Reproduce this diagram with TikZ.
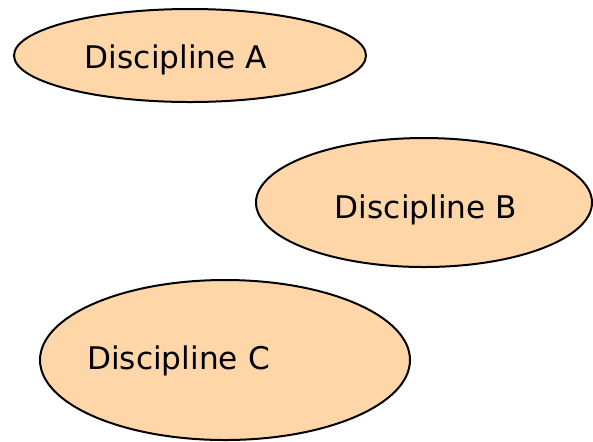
\documentclass[tikz,border=0pt]{standalone}
\usepackage{fontspec}
\setmainfont{DejaVu Sans}
\usepackage{tikz}
\usetikzlibrary{shapes.geometric}
\definecolor{peach}{RGB}{254,214,168}

\begin{document}
\begin{tikzpicture}[x=0.5pt,y=-0.5pt]
\tikzset{disc/.style={ellipse,draw=black,line width=1pt,fill=peach,inner sep=0pt},
         disclabel/.style={anchor=base,inner sep=0pt,font=\fontsize{15.6}{18}\selectfont}}
\useasboundingbox (0,0) rectangle (593,441);
\node[disc,minimum width=176pt,minimum height=46.5pt] (discA) at (190,55.5) {};
\node[disc,minimum width=168pt,minimum height=64.5pt] (discB) at (424,202.5) {};
\node[disc,minimum width=185pt,minimum height=80pt] (discC) at (225,360) {};
\node[disclabel] (labA) at (176,68) {Discipline A};
\node[disclabel] (labB) at (426,218) {Discipline B};
\node[disclabel] (labC) at (178.5,369) {Discipline C};
\end{tikzpicture}
\end{document}
